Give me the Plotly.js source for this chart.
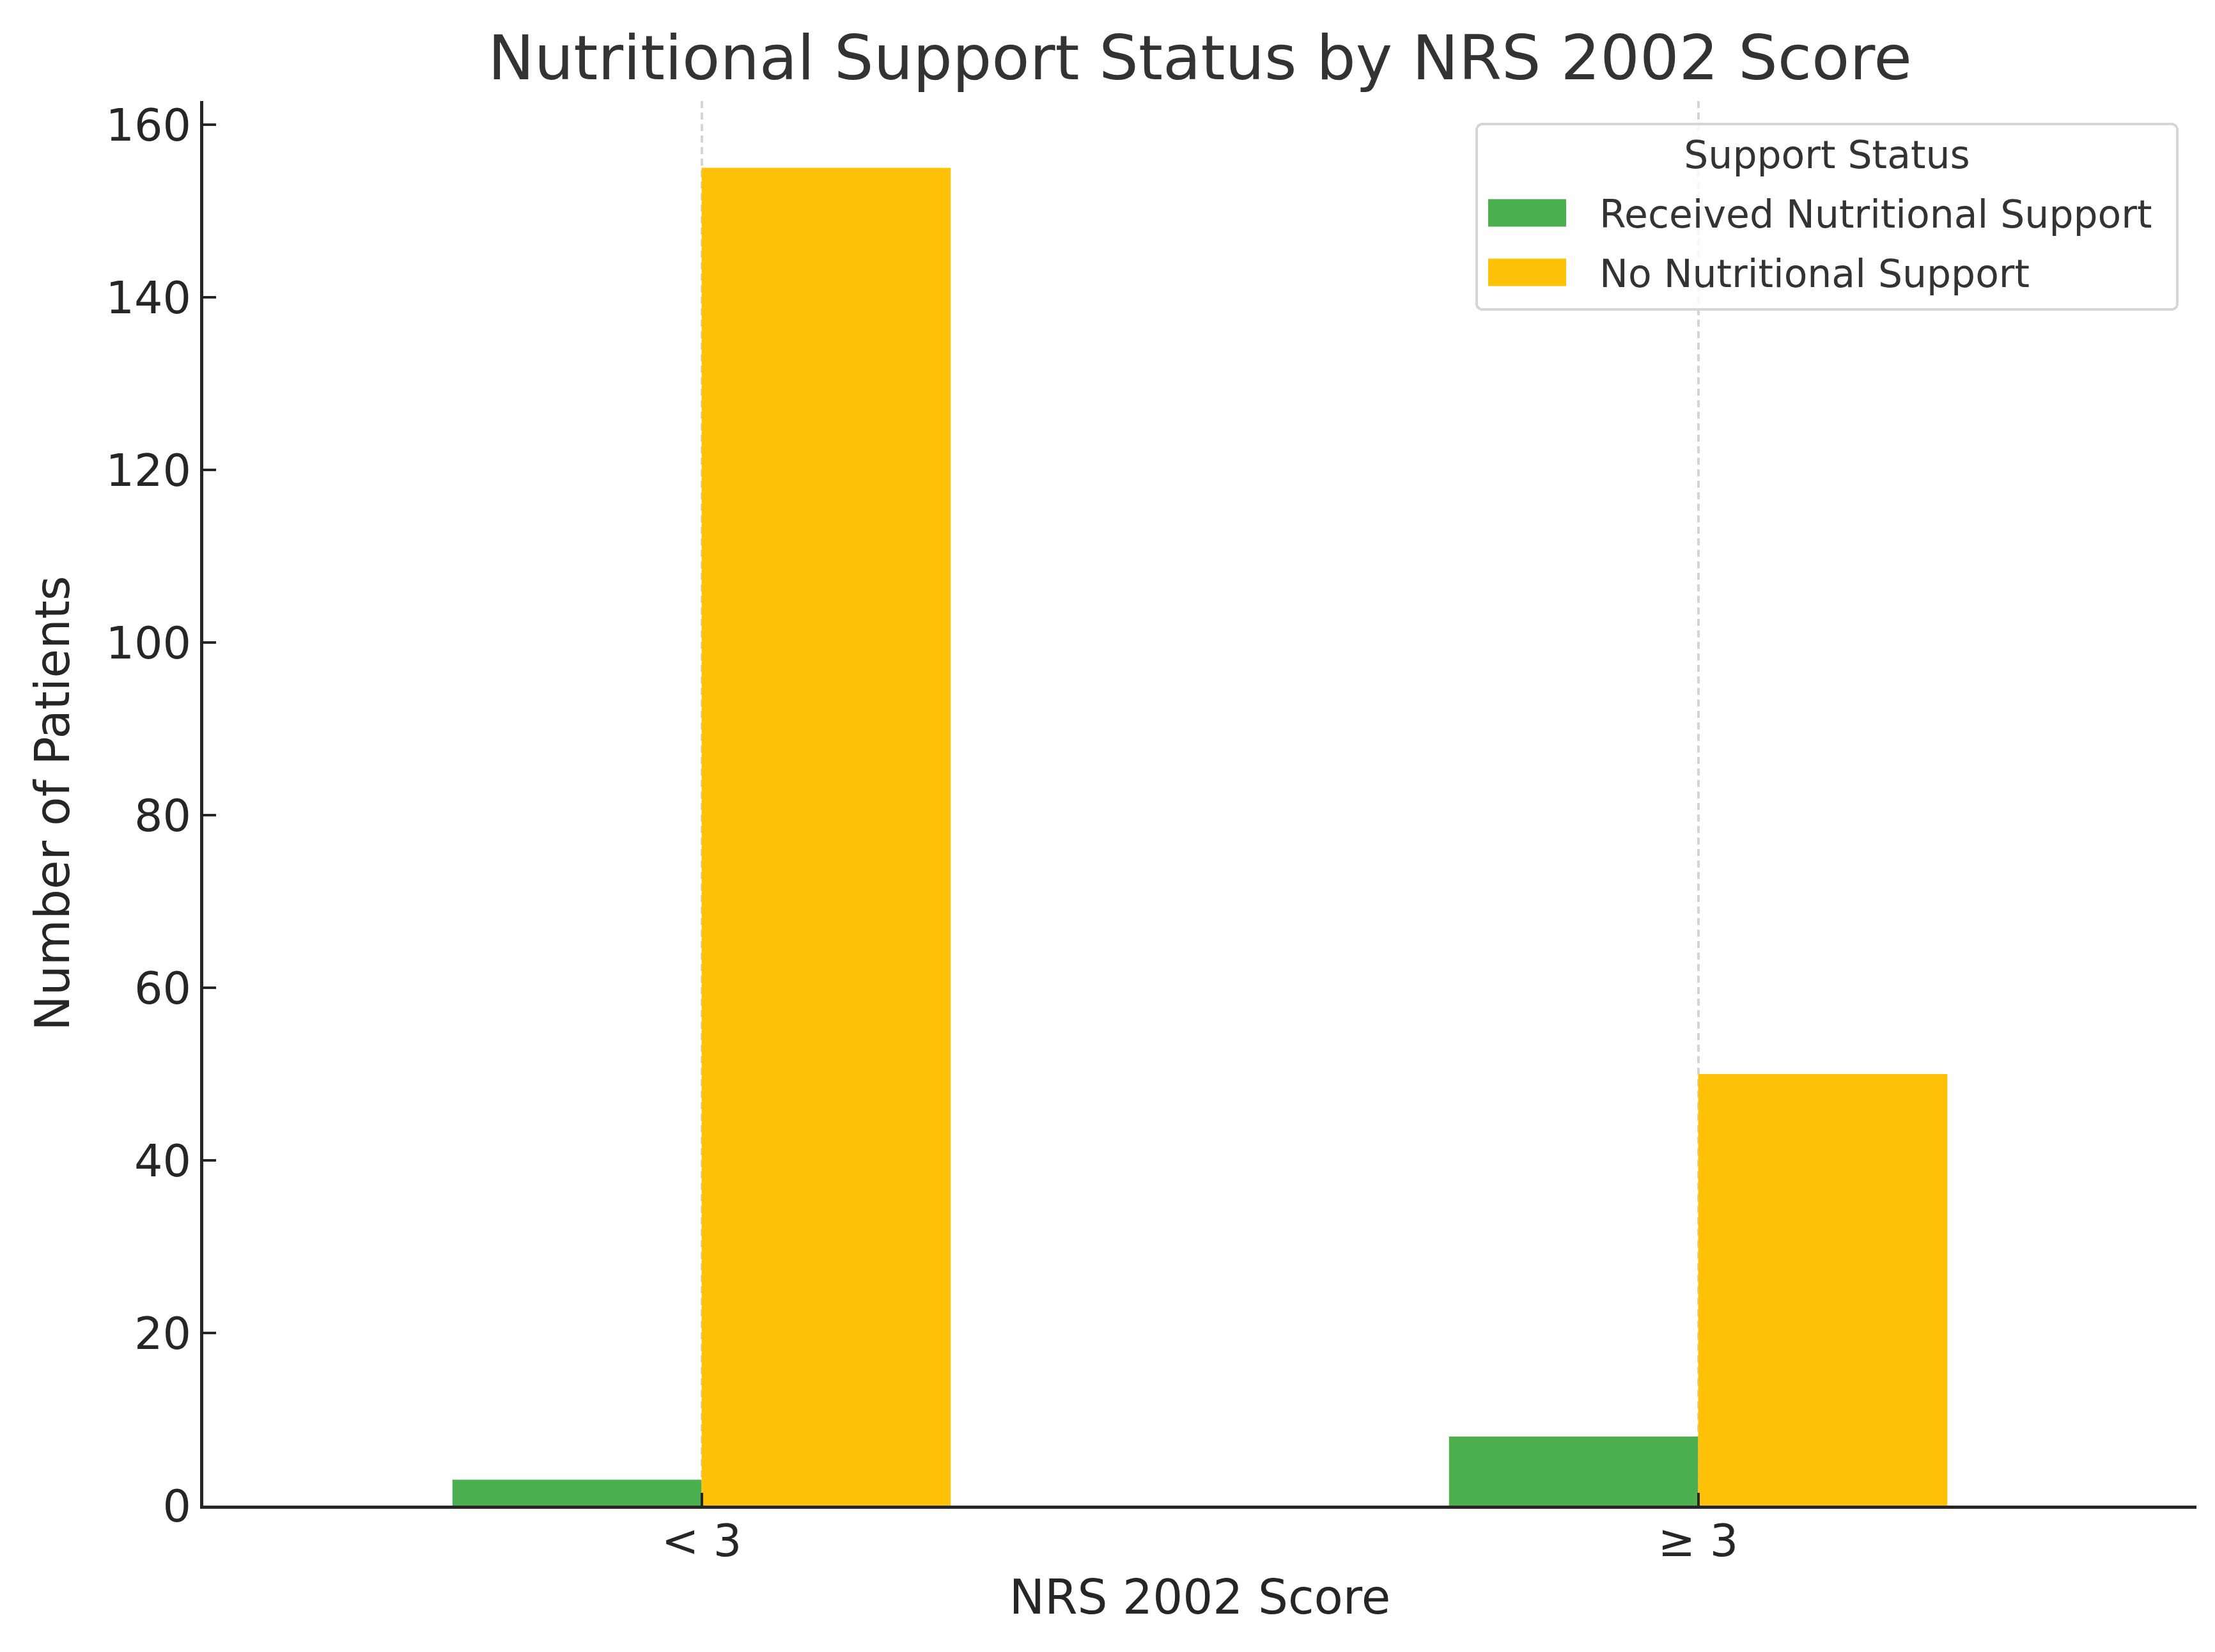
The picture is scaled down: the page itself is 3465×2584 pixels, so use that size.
<!DOCTYPE html>
<html>
<head>
<meta charset="utf-8">
<script src="https://cdn.plot.ly/plotly-3.0.1.min.js"></script>
<style>html,body{margin:0;padding:0;background:#fff;}</style>
</head>
<body>
<div id="chart" style="width:3465px;height:2584px;"></div>
<script>
const categories = ["< 3", "≥ 3"];
const seriesNames = ["Received Nutritional Support", "No Nutritional Support"];
const receivedSupport = [3, 8];
const noSupport = [155, 50];
const yTicks = [0, 20, 40, 60, 80, 100, 120, 140, 160];

const FONT = "DejaVu Sans, sans-serif";

const traces = [
  {type: "bar", name: seriesNames[0], x: categories, y: receivedSupport, legendgroup: "a",
   marker: {color: "#4CAF50", line: {width: 0}}},
  {type: "bar", name: seriesNames[1], x: categories, y: noSupport, legendgroup: "b",
   marker: {color: "#FFC107", line: {width: 0}}}
];

const layout = {
  width: 3465, height: 2584,
  paper_bgcolor: "#ffffff", plot_bgcolor: "#ffffff",
  font: {family: FONT, color: "#262626", size: 70},
  margin: {l: 318, r: 29, t: 158, b: 229},
  barmode: "group", bargap: 0.5, bargroupgap: 0,
  title: {text: "Nutritional Support Status by NRS 2002 Score",
          font: {family: FONT, size: 97, color: "#333333"},
          x: 0.5, xref: "paper", xanchor: "center",
          y: 1 - 90/2584, yref: "container", yanchor: "middle"},
  xaxis: {
    type: "category", range: [-0.5, 1.5],
    title: {text: "NRS 2002 Score", font: {family: FONT, size: 74, color: "#262626"}, standoff: 24},
    showline: true, linecolor: "#262626", linewidth: 5,
    ticks: "inside", ticklen: 20, tickwidth: 4, tickcolor: "#262626",
    tickfont: {family: FONT, size: 70, color: "#262626"},
    ticklabelstandoff: -10,
    showgrid: true, gridcolor: "#d4d4d4", gridwidth: 4, griddash: "11px,7px",
    zeroline: false, fixedrange: true
  },
  yaxis: {
    range: [0, 162.75], tickvals: yTicks,
    title: {text: "Number of Patients", font: {family: FONT, size: 74, color: "#262626"}, standoff: 34},
    showline: true, linecolor: "#262626", linewidth: 5,
    ticks: "inside", ticklen: 20, tickwidth: 4, tickcolor: "#262626",
    tickfont: {family: FONT, size: 70, color: "#262626"},
    showgrid: false, zeroline: false, fixedrange: true
  },
  legend: {
    title: {text: "Support Status", side: "top center", font: {family: FONT, size: 60, color: "#333333"}},
    font: {family: FONT, size: 60, color: "#333333"},
    x: (3376 - 318) / 3118, xanchor: "right", y: 0.9845, yanchor: "top",
    bgcolor: "rgba(255,255,255,0.8)", bordercolor: "#d6d6d6", borderwidth: 4,
    itemwidth: 180, traceorder: "grouped", tracegroupgap: 12
  },
  showlegend: true
};

function shift(el, dx, dy) {
  const prev = el.getAttribute("transform") || "";
  el.setAttribute("transform", prev + " translate(" + dx + "," + dy + ")");
}

Plotly.newPlot("chart", traces, layout, {staticPlot: true, displayModeBar: false}).then(function () {
  const leg = document.querySelector(".legend");
  if (!leg) return;
  const EXTRA_W = 32, EXTRA_H = 24;
  leg.querySelectorAll(".traces").forEach(function (g) {
    const p = g.querySelector(".legendpoints path");
    const t = g.querySelector("text.legendtext");
    if (!p || !t) return;
    p.setAttribute("d", "M0,0h1v1h-1z");
    const pr = p.getBoundingClientRect();
    const tr = t.getBoundingClientRect();
    const right = tr.left - 52 - pr.left;
    p.setAttribute("d", "M" + (right - 122) + ",-21h122v43h-122z");
    shift(g, 0, 13);
  });
  const bg = leg.querySelector("rect.bg");
  if (bg) {
    bg.setAttribute("width", (+bg.getAttribute("width")) + EXTRA_W);
    bg.setAttribute("height", (+bg.getAttribute("height")) + EXTRA_H);
    bg.setAttribute("rx", 9); bg.setAttribute("ry", 9);
  }
  const title = leg.querySelector(".legendtitletext");
  if (title) shift(title, EXTRA_W / 2, -11);
  document.querySelectorAll("clipPath rect").forEach(function (r) {
    const id = r.parentNode.getAttribute("id") || "";
    if (id.indexOf("legend") === 0) {
      r.setAttribute("width", (+r.getAttribute("width")) + EXTRA_W);
      r.setAttribute("height", (+r.getAttribute("height")) + EXTRA_H);
    }
  });
});
</script>
</body>
</html>
